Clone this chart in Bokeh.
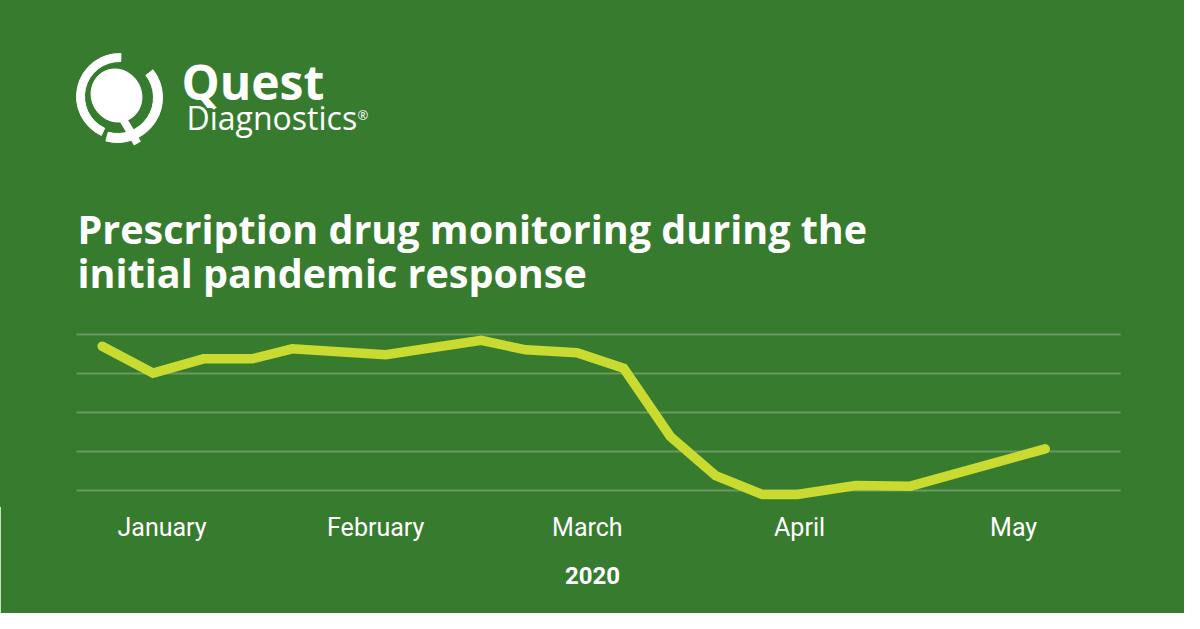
from bokeh.plotting import figure
from bokeh.models import Range1d, FixedTicker, Label
from bokeh.embed import file_html
from bokeh.resources import INLINE

# ---- data (week index since first observation, relative volume index) ----
weeks = [0, 1.08, 2.15, 3.18, 4.03, 6.01, 8.04, 8.98, 10.07, 11.06,
         12.05, 13.01, 14.0, 14.74, 15.98, 17.14, 20.0]
volume = [92.5, 75.2, 84.4, 84.4, 90.8, 87.0, 96.2, 90.2, 88.3, 78.3,
          34.6, 9.6, -2.6, -2.6, 3.2, 2.8, 26.7]
month_ticks = [1.27, 5.8, 10.29, 14.79, 19.33]
month_labels = ["January", "February", "March", "April", "May"]
grid_values = [0, 25, 50, 75, 100]
grid_extent = (-0.545, 21.6)
year_label = "2020"
title_lines = ["Prescription drug monitoring during the", "initial pandemic response"]

BG = "#377B2F"
GRID = "#699B61"
LINE = "#C9DA30"

p = figure(width=1184, height=613, output_backend="svg", toolbar_location=None,
           x_range=Range1d(-2.157, 22.954), y_range=Range1d(-9.615, 314.1),
           y_axis_location=None,
           min_border_left=0, min_border_right=0, min_border_top=0, min_border_bottom=108)
p.extra_x_ranges = {"px": Range1d(0, 1184)}
p.extra_y_ranges = {"px": Range1d(-505, 0)}

p.background_fill_color = BG
p.border_fill_color = BG
p.outline_line_color = BG
p.outline_line_width = 3
p.xgrid.visible = False
p.ygrid.visible = False

# horizontal guide lines at the value grid
p.segment(x0=[grid_extent[0]] * len(grid_values), x1=[grid_extent[1]] * len(grid_values),
          y0=grid_values, y1=grid_values, line_color=GRID, line_width=2)

ax = p.xaxis[0]
ax.ticker = FixedTicker(ticks=month_ticks)
ax.major_label_overrides = {t: l for t, l in zip(month_ticks, month_labels)}
ax.axis_line_color = None
ax.major_tick_line_color = None
ax.minor_tick_line_color = None
ax.major_tick_out = 0
ax.major_tick_in = 0
ax.major_label_standoff = 7
ax.major_label_text_font = "Roboto"
ax.major_label_text_font_size = "25px"
ax.major_label_text_color = "white"
ax.axis_label = year_label
ax.axis_label_text_font = "Roboto"
ax.axis_label_text_font_style = "bold"
ax.axis_label_text_font_size = "24px"
ax.axis_label_text_color = "white"
ax.axis_label_standoff = 22

p.line(weeks, volume, line_color=LINE, line_width=9.5, line_cap="round", line_join="miter")

# ---- logo (decorative, pixel space) ----
p.annular_wedge(x=[119], y=[-96], inner_radius=35, outer_radius=43,
                start_angle=88, end_angle=245, start_angle_units="deg", end_angle_units="deg",
                color="white", x_range_name="px", y_range_name="px")
p.annular_wedge(x=[117], y=[-97], inner_radius=36, outer_radius=45,
                start_angle=-105, end_angle=38, start_angle_units="deg", end_angle_units="deg",
                color="white", x_range_name="px", y_range_name="px")
p.ellipse(x=[116], y=[-95], width=50, height=54, angle=0.5,
          color="white", x_range_name="px", y_range_name="px")
p.segment(x0=[122], y0=[-118], x1=[137], y1=[-143], line_color="white",
          line_width=8, x_range_name="px", y_range_name="px")

p.add_layout(Label(x=181, y=-81, text="Quest", text_font="Open Sans",
                   text_font_style="bold", text_font_size="48px", text_color="white",
                   text_baseline="alphabetic", x_range_name="px", y_range_name="px"))
p.add_layout(Label(x=186, y=-117, text="Diagnostics", text_font="Open Sans",
                   text_font_size="32px", text_color="white",
                   text_baseline="alphabetic", x_range_name="px", y_range_name="px"))
p.add_layout(Label(x=357, y=-114, text="®", text_font="Open Sans",
                   text_font_size="13px", text_color="white",
                   text_baseline="alphabetic", x_range_name="px", y_range_name="px"))

# ---- title ----
for i, line in enumerate(title_lines):
    p.add_layout(Label(x=77, y=-(228 + 44 * i), text=line, text_font="Open Sans",
                       text_font_style="bold", text_font_size="39.5px", text_color="white",
                       text_baseline="alphabetic", x_range_name="px", y_range_name="px"))

open("out.html", "w").write(file_html(p, INLINE))
